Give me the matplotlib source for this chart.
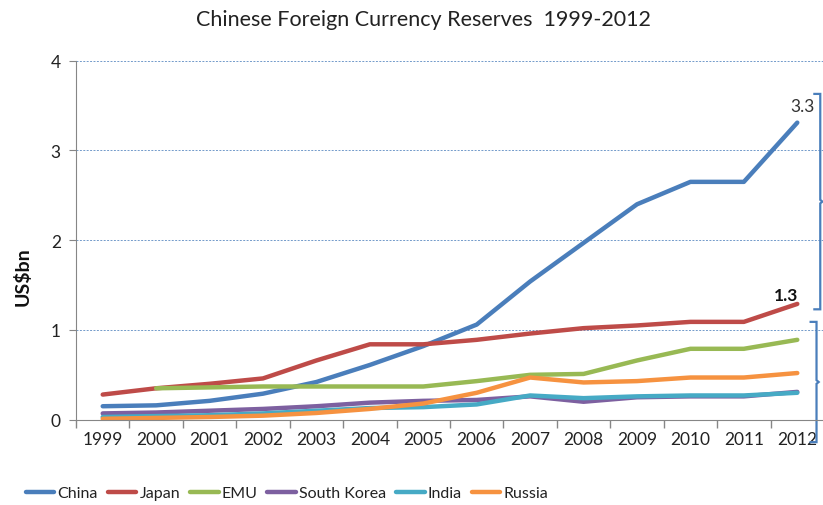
import matplotlib
matplotlib.use("Agg")
import matplotlib.pyplot as plt

# ── Data (US$ trillion, end of year) ─────────────────────────
years = list(range(1999, 2013))
year_labels = [str(y) for y in years]

china = [0.15, 0.16, 0.21, 0.29, 0.42, 0.61, 0.82, 1.06, 1.54, 1.97, 2.40, 2.65, 2.65, 3.31]
japan = [0.28, 0.35, 0.40, 0.46, 0.66, 0.84, 0.84, 0.89, 0.96, 1.02, 1.05, 1.09, 1.09, 1.29]
emu = [None, 0.35, 0.36, 0.37, 0.37, 0.37, 0.37, 0.43, 0.50, 0.51, 0.66, 0.79, 0.79, 0.89]
south_korea = [0.07, 0.08, 0.10, 0.12, 0.15, 0.19, 0.21, 0.22, 0.26, 0.20, 0.25, 0.26, 0.26, 0.31]
india = [0.03, 0.04, 0.05, 0.07, 0.10, 0.13, 0.14, 0.17, 0.27, 0.24, 0.26, 0.27, 0.27, 0.30]
russia = [0.01, 0.02, 0.03, 0.045, 0.075, 0.12, 0.18, 0.30, 0.47, 0.415, 0.43, 0.47, 0.47, 0.52]

series = [
    ("China", china, "#4a7ebb"),
    ("Japan", japan, "#be4b48"),
    ("EMU", emu, "#98b954"),
    ("South Korea", south_korea, "#7d60a0"),
    ("India", india, "#46aac5"),
    ("Russia", russia, "#f69240"),
]

# brace spans on the right edge (value range covered)
brace_upper = (1.23, 3.63)
brace_lower = (-0.25, 1.09)

plt.rcParams["font.family"] = ["Lato", "DejaVu Sans"]

fig = plt.figure(figsize=(8.23, 5.06), dpi=100)
ax = fig.add_axes([76 / 823, 1 - 420.7 / 506, 748 / 823, (420.7 - 61.7) / 506])

x = list(range(len(years)))
for name, vals, color in series:
    xs = [i for i, v in zip(x, vals) if v is not None]
    ys = [v for v in vals if v is not None]
    ax.plot(xs, ys, color=color, linewidth=3.2, label=name,
            solid_capstyle="round", solid_joinstyle="round")

ax.set_xlim(-0.5, len(years) - 0.5)
ax.set_ylim(0, 4)
ax.set_yticks([0, 1, 2, 3, 4])

# category ticks sit between the year labels
ax.set_xticks([i - 0.5 for i in range(len(years) + 1)], minor=False)
ax.set_xticklabels([])
ax.set_xticks(x, minor=True)
ax.set_xticklabels(year_labels, minor=True)
ax.tick_params(axis="x", which="major", length=6, color="#868686", width=1)
ax.tick_params(axis="x", which="minor", length=0, labelsize=12.5,
               labelcolor="#222222", pad=8)
ax.tick_params(axis="y", length=5, color="#868686", labelsize=12.5,
               labelcolor="#222222", pad=6)

ax.yaxis.grid(True, color="#4f81bd", linestyle=(0, (2, 1.5)), linewidth=0.7, alpha=0.8)
ax.set_axisbelow(True)
for side in ("top", "right"):
    ax.spines[side].set_visible(False)
for side in ("left", "bottom"):
    ax.spines[side].set_color("#868686")

fig.text(423 / 823, 1 - 20 / 506, "Chinese Foreign Currency Reserves  1999-2012",
         ha="center", va="center", fontsize=15.5, color="#222222")
fig.text(23 / 823, 1 - 277 / 506, "US$bn", rotation=90, ha="center", va="center",
         fontsize=14, fontweight="bold", color="#111111")

# end-point labels
ax.annotate(f"{china[-1]:.1f}", (x[-1], china[-1]), xytext=(4, 6),
            textcoords="offset points", ha="center", va="bottom",
            fontsize=12.5, color="#333333")
ax.annotate(f"{japan[-1]:.1f}", (x[-1], japan[-1]), xytext=(-8, 1),
            textcoords="offset points", ha="center", va="bottom",
            fontsize=12.5, fontweight="bold", color="#111111")

# right-hand braces
bx = 13.43
for (lo, hi), off in ((brace_upper, 0.0), (brace_lower, -0.07)):
    b = bx + off
    mid = (lo + hi) / 2
    ax.plot([b - 0.11, b, b, b + 0.04, b, b, b - 0.11],
            [hi, hi, mid + 0.02, mid, mid - 0.02, lo, lo],
            color="#4a7ebb", linewidth=1.6, clip_on=False,
            solid_joinstyle="miter")

fig.legend(*ax.get_legend_handles_labels(), loc="center",
           bbox_to_anchor=(287 / 823, 1 - 494 / 506), ncol=6, frameon=False,
           fontsize=11.5, handlelength=1.8, handletextpad=0.2,
           columnspacing=0.6, labelcolor="#222222")

fig.savefig("out.png", dpi=100)
